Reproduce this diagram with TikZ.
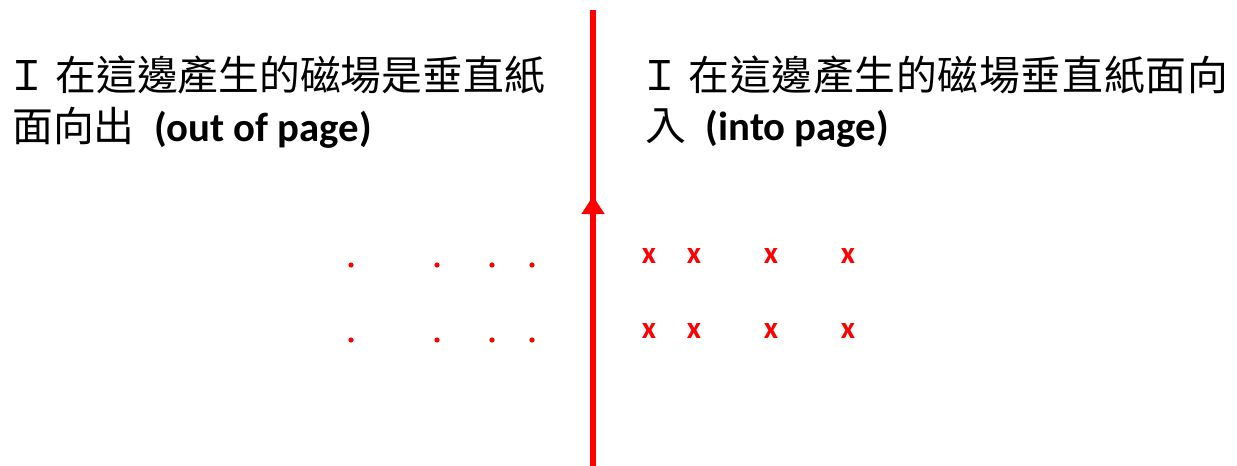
\documentclass[tikz,border=0pt]{standalone}
\usepackage{fontspec}
\setmainfont{Carlito}
\newfontfamily\cjk{Noto Sans CJK TC}
\newfontfamily\cjkwide[LetterSpace=1.9]{Noto Sans CJK TC}
\usetikzlibrary{arrows.meta}
\definecolor{wirered}{RGB}{255,0,0}
\begin{document}
\begin{tikzpicture}[x=0.025cm, y=-0.025cm, wire/.style={draw=wirered, line width=4.3pt}, field dot/.style={circle,fill=wirered,minimum size=0.13cm,inner sep=0pt}, cross/.style={text=wirered,font=\fontsize{22}{22}\selectfont\bfseries,inner sep=0pt}, label text/.style={anchor=west,inner sep=0pt,font=\fontsize{29}{29}\selectfont}]
\useasboundingbox (0,0) rectangle (1237,466);
\begin{scope}
\node[label text] (lt1) at (6,75) {{\cjk Ｉ}\hspace{6pt}{\cjk 在這邊產生的磁場是垂直紙}};
\node[label text] (lt2) at (12,128) {{\cjk 面向出}\hspace{14pt}\textbf{(out of page)}};
\node[label text] (rt1) at (639,75) {{\cjk Ｉ}\hspace{6pt}{\cjkwide 在這邊產生的磁場垂直紙面向}};
\node[label text] (rt2) at (645,128) {{\cjk 入}\hspace{14pt}\textbf{(into page)}};
\end{scope}
\begin{scope}
\coordinate (wtop) at (593,10);
\coordinate (wbot) at (593,466);
\coordinate (wtip) at (593,196);
\draw[wire] (wbot) -- (wtop);
\draw[wire, -{Triangle[width=0.55cm,length=0.45cm]}] (wbot) -- (wtip);
\end{scope}
\begin{scope}
\node[field dot] (d1) at (351,265) {};
\node[field dot] (d2) at (437,265) {};
\node[field dot] (d3) at (492,265) {};
\node[field dot] (d4) at (532,265) {};
\node[field dot] (d5) at (351,340) {};
\node[field dot] (d6) at (437,340) {};
\node[field dot] (d7) at (492,340) {};
\node[field dot] (d8) at (532,340) {};
%\node[field dot] (d) at (,) {};
\end{scope}
\begin{scope}
\node[cross] (x1) at (649,256) {x};
\node[cross] (x2) at (694,256) {x};
\node[cross] (x3) at (771,256) {x};
\node[cross] (x4) at (848,256) {x};
\node[cross] (x5) at (649,331) {x};
\node[cross] (x6) at (694,331) {x};
\node[cross] (x7) at (771,331) {x};
\node[cross] (x8) at (848,331) {x};
\end{scope}
\end{tikzpicture}
\end{document}
